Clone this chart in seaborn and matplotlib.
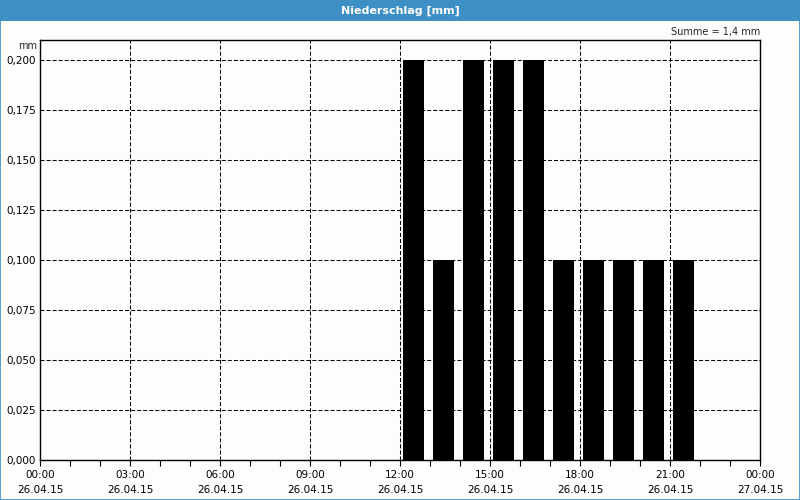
import numpy as np
import pandas as pd
import matplotlib
matplotlib.use("Agg")
import matplotlib.pyplot as plt
import seaborn as sns
from matplotlib.patches import Rectangle

# ---- data ----
hours = [12, 13, 14, 15, 16, 17, 18, 19, 20, 21]
precip = [0.2, 0.1, 0.2, 0.2, 0.2, 0.1, 0.1, 0.1, 0.1, 0.1]
x_tick_hours = [0, 3, 6, 9, 12, 15, 18, 21, 24]
x_tick_labels = ["00:00\n26.04.15", "03:00\n26.04.15", "06:00\n26.04.15",
                 "09:00\n26.04.15", "12:00\n26.04.15", "15:00\n26.04.15",
                 "18:00\n26.04.15", "21:00\n26.04.15", "00:00\n27.04.15"]
y_ticks = [0.0, 0.025, 0.05, 0.075, 0.1, 0.125, 0.15, 0.175, 0.2]
y_tick_labels = ["0,000", "0,025", "0,050", "0,075", "0,100", "0,125",
                 "0,150", "0,175", "0,200"]
title = "Niederschlag [mm]"
unit = "mm"
summe_text = "Summe = 1,4 mm"

sns.set_theme(style="white")
plt.rcParams["font.family"] = ["DejaVu Sans"]
plt.rcParams["lines.scale_dashes"] = False

BLUE = "#3d8fc6"
BG = "#fcfefc"

fig = plt.figure(figsize=(8, 5), dpi=100, facecolor=BG)
ax = fig.add_axes([0.05, 0.08, 0.90, 0.84])
ax.set_facecolor(BG)

df = pd.DataFrame({"center": [h + 0.45 for h in hours], "value": precip})
sns.barplot(data=df, x="center", y="value", native_scale=True, width=0.7,
            color="black", saturation=1, edgecolor="none", linewidth=0, ax=ax)

ax.set_xlim(0, 24)
ax.set_ylim(0, 0.21)
ax.set_xlabel("")
ax.set_ylabel("")

ax.set_xticks(x_tick_hours)
ax.set_xticklabels(x_tick_labels, fontsize=7.5, color="black", linespacing=1.6)
ax.set_xticks(np.arange(0, 25, 1), minor=True)
ax.tick_params(axis="x", which="both", direction="out", length=4, width=0.8,
               color="black", bottom=True, pad=3)
ax.set_yticks(y_ticks)
ax.set_yticklabels(y_tick_labels, fontsize=7.5, color="black")
ax.tick_params(axis="y", length=0, pad=3)

ax.set_axisbelow(True)
ax.grid(True, which="major", color="black", linewidth=0.75,
        linestyle=(0, (2.9, 1.45)))
for s in ax.spines.values():
    s.set_visible(True)
    s.set_color("black")
    s.set_linewidth(1.0)

# title bar and frame
fig.patches.append(Rectangle((0, 1 - 21 / 500), 1, 21 / 500, transform=fig.transFigure,
                             facecolor=BLUE, edgecolor="none", zorder=0))
fig.patches.append(Rectangle((0.0006, 0.001), 0.9988, 0.998, transform=fig.transFigure,
                             facecolor="none", edgecolor=BLUE, linewidth=1.2, zorder=1))
fig.text(0.5, 1 - 10.5 / 500, title, color="white", fontsize=8, fontweight="bold",
         ha="center", va="center")
fig.text(37 / 800, 1 - 46 / 500, unit, fontsize=7, ha="right", va="center")
fig.text(760 / 800, 1 - 32 / 500, summe_text, fontsize=7, ha="right", va="center")

fig.savefig("out.png", dpi=100, facecolor=BG)
